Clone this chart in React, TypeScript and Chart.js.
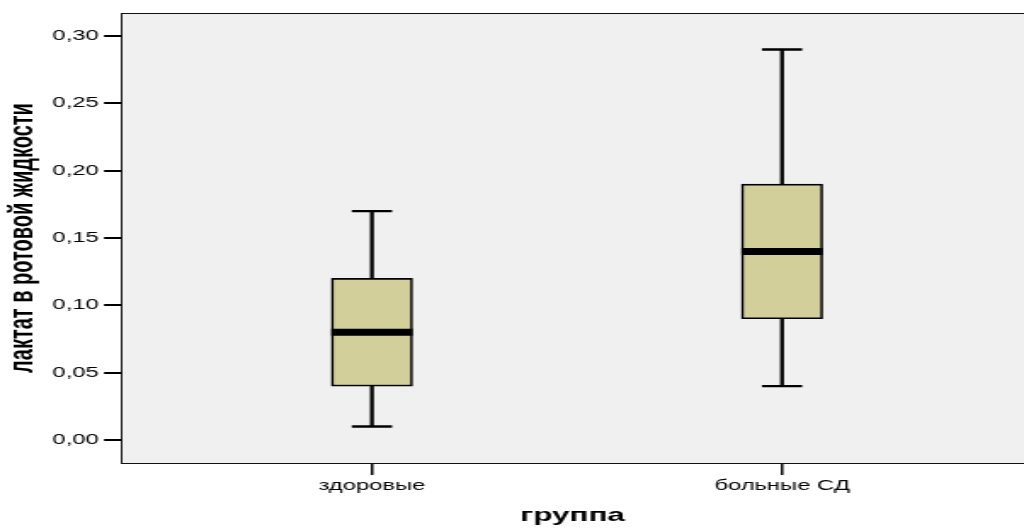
import React, { useEffect, useRef } from "react";
import { Chart, registerables } from "chart.js";

Chart.register(...registerables);

// ---- data ----
const CATEGORIES = ["здоровые", "больные СД"];
const MIN_VALUES = [0.01, 0.04];
const Q1_VALUES = [0.04, 0.09];
const MEDIAN_VALUES = [0.08, 0.14];
const Q3_VALUES = [0.12, 0.19];
const MAX_VALUES = [0.17, 0.29];
const Y_TICKS = [0, 0.05, 0.1, 0.15, 0.2, 0.25, 0.3];
const Y_TITLE = "лактат в ротовой жидкости";
const X_TITLE = "группа";

// ---- layout / style ----
const CANVAS_W = 602; // drawn narrow then stretched horizontally, like the reference
const CANVAS_H = 530;
const BOX_HALF = 0.099;
const CAP_HALF = 0.049;
const BOX_COLOR = "#d3cf9b";
const PLOT_BG = "#f0f0f0";
const FONT = "'Liberation Sans', Arial, sans-serif";

export default function App() {
  const ref = useRef<HTMLCanvasElement | null>(null);

  useEffect(() => {
    const canvas = ref.current;
    if (!canvas) return;

    const pos = CATEGORIES.map((_, i) => i + 1);

    const boxData = pos.map((x, i) => ({ x, y: [Q1_VALUES[i], Q3_VALUES[i]] }));
    const whiskerData: any[] = [];
    const capData: any[] = [];
    const medianData: any[] = [];
    pos.forEach((x, i) => {
      whiskerData.push({ x, y: Q3_VALUES[i] }, { x, y: MAX_VALUES[i] }, { x, y: null });
      whiskerData.push({ x, y: MIN_VALUES[i] }, { x, y: Q1_VALUES[i] }, { x, y: null });
      capData.push({ x: x - CAP_HALF, y: MAX_VALUES[i] }, { x: x + CAP_HALF, y: MAX_VALUES[i] }, { x, y: null });
      capData.push({ x: x - CAP_HALF, y: MIN_VALUES[i] }, { x: x + CAP_HALF, y: MIN_VALUES[i] }, { x, y: null });
      medianData.push(
        { x: x - BOX_HALF, y: MEDIAN_VALUES[i] },
        { x: x + BOX_HALF, y: MEDIAN_VALUES[i] },
        { x, y: null }
      );
    });

    const lineDs = (data: any[], width: number) => ({
      type: "scatter" as const,
      data,
      showLine: true,
      spanGaps: false,
      borderColor: "#000",
      borderWidth: width,
      borderCapStyle: "butt" as const,
      pointRadius: 0,
      order: 1,
    });

    const framePlugin = {
      id: "frame",
      beforeDraw(chart: any) {
        const { ctx, chartArea } = chart;
        ctx.save();
        ctx.fillStyle = PLOT_BG;
        ctx.fillRect(chartArea.left, chartArea.top, chartArea.right - chartArea.left, chartArea.bottom - chartArea.top);
        ctx.restore();
      },
      afterDraw(chart: any) {
        const { ctx, chartArea } = chart;
        ctx.save();
        ctx.strokeStyle = "#111";
        ctx.lineWidth = 1;
        ctx.strokeRect(
          Math.round(chartArea.left) + 0.5,
          Math.round(chartArea.top) + 0.5,
          chartArea.right - chartArea.left + 20,
          Math.round(chartArea.bottom) - Math.round(chartArea.top)
        );
        ctx.restore();
      },
    };

    const chart = new Chart(canvas, {
      type: "bar",
      data: {
        datasets: [
          {
            type: "bar",
            data: boxData as any,
            backgroundColor: BOX_COLOR,
            borderColor: "#000",
            borderWidth: 1.6,
            borderSkipped: false,
            barThickness: 47.6,
            order: 2,
          } as any,
          lineDs(whiskerData, 2.3),
          lineDs(capData, 2.3),
          lineDs(medianData, 7),
        ],
      },
      options: {
        responsive: false,
        animation: false,
        events: [],
        layout: { padding: { top: 13, left: 0, right: 0, bottom: 0 } },
        plugins: { legend: { display: false }, tooltip: { enabled: false } },
        scales: {
          x: {
            type: "linear",
            min: 0.388,
            max: 2.59,
            offset: false,
            afterBuildTicks(scale: any) {
              scale.ticks = pos.map((v) => ({ value: v }));
            },
            afterFit(scale: any) {
              scale.height = 67;
            },
            ticks: {
              color: "#000",
              padding: 3,
              autoSkip: false,
              maxRotation: 0,
              font: { family: FONT, size: 14 },
              callback: (v: any) => CATEGORIES[Math.round(Number(v)) - 1] ?? "",
            },
            grid: {
              display: true,
              offset: false,
              drawOnChartArea: false,
              drawTicks: true,
              tickLength: 12,
              color: "#000",
              lineWidth: 1.5,
            },
            border: { display: false },
            title: {
              display: true,
              text: X_TITLE,
              color: "#000",
              font: { family: FONT, size: 18.5, weight: "bold" },
              padding: { top: 0, bottom: 3 },
            },
          },
          y: {
            type: "linear",
            min: -0.0171,
            max: 0.3171,
            afterBuildTicks(scale: any) {
              scale.ticks = Y_TICKS.map((v) => ({ value: v }));
            },
            afterFit(scale: any) {
              scale.width = 71.1;
            },
            ticks: {
              color: "#000",
              padding: 3,
              font: { family: FONT, size: 14 },
              callback: (v: any) => Number(v).toFixed(2).replace(".", ","),
            },
            grid: {
              display: true,
              drawOnChartArea: false,
              drawTicks: true,
              tickLength: 10,
              color: "#000",
              lineWidth: 2,
            },
            border: { display: false },
            title: {
              display: true,
              text: Y_TITLE,
              color: "#000",
              font: { family: FONT, size: 20, weight: "bold" },
              padding: { top: 1, bottom: 0 },
            },
          },
        },
      },
      plugins: [framePlugin],
    });

    return () => chart.destroy();
  }, []);

  return (
    <div style={{ position: "fixed", left: 0, top: 0, width: 1024, height: 530, background: "#fff" }}>
      <canvas
        ref={ref}
        width={CANVAS_W}
        height={CANVAS_H}
        style={{ width: "1024px", height: "530px", display: "block" }}
      />
    </div>
  );
}
